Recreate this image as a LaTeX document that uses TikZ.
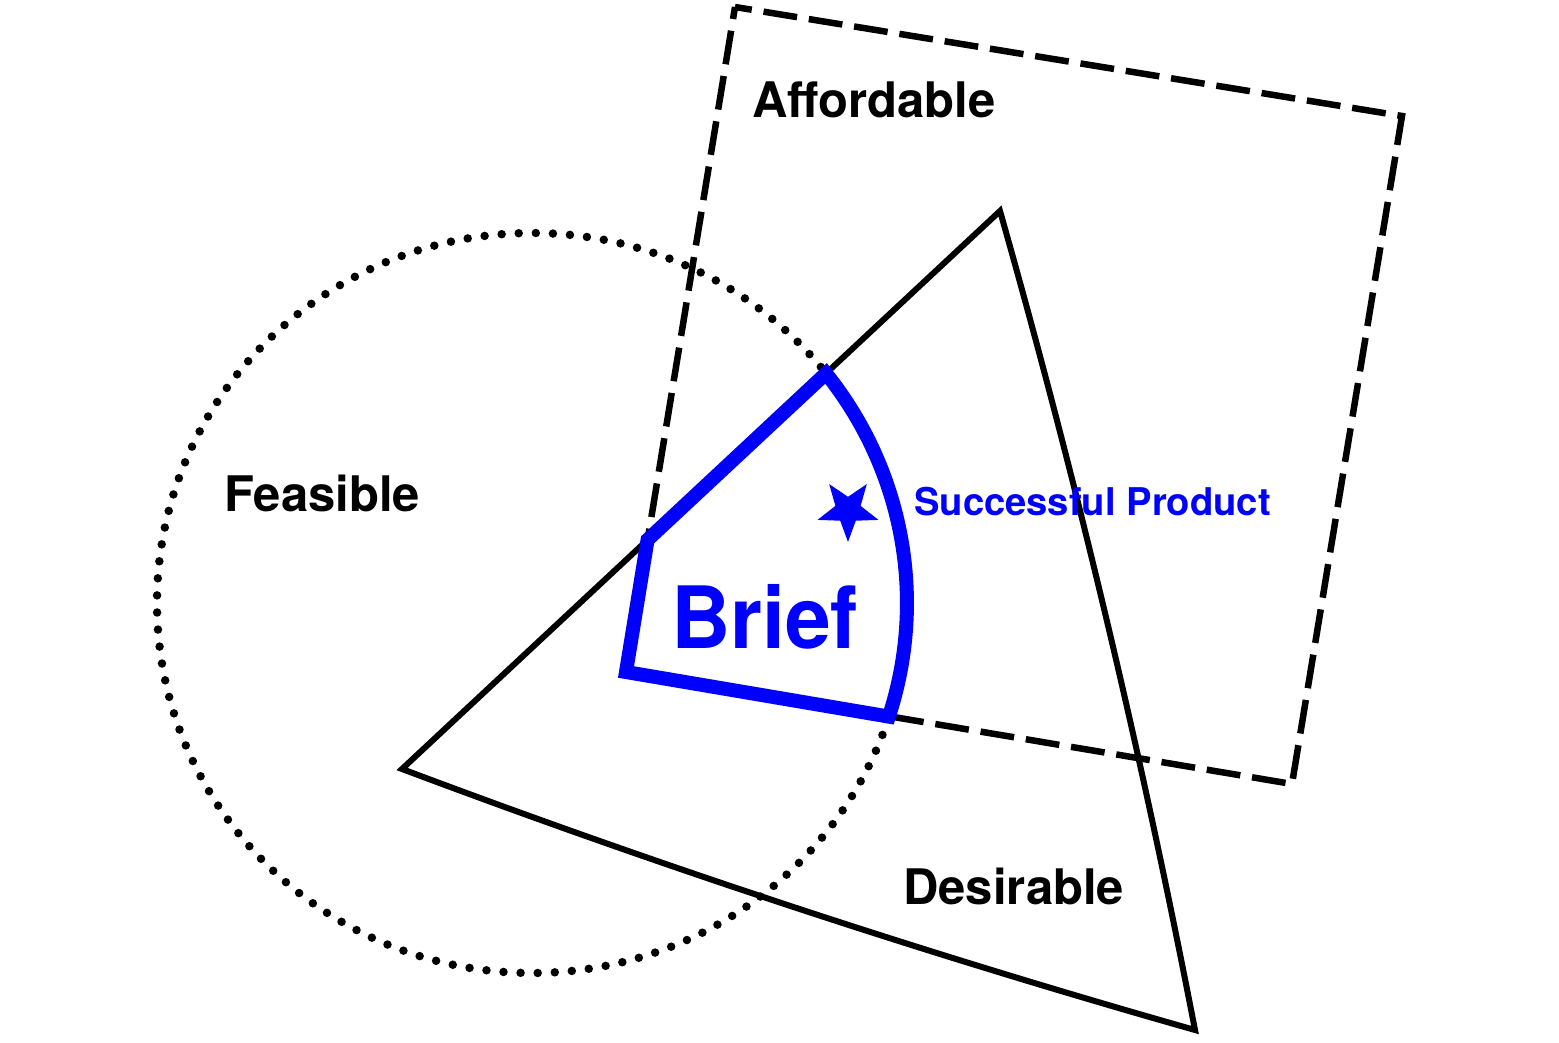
\documentclass[tikz,border=0pt]{standalone}
\usepackage{fontspec}
\usepackage{graphicx}
\setmainfont{TeX Gyre Heros}
\begin{document}
\begin{tikzpicture}[x=1pt,y=1pt,
  edge/.style={line width=6pt, line join=miter},
  dashbox/.style={line width=6.5pt, line join=miter, dash pattern=on 34pt off 11.88pt, dash phase=17pt},
  dotring/.style={line width=8.5pt, line cap=round, dash pattern=on 0pt off 17.1pt},
  brief/.style={draw=blue, line width=14pt, line join=miter},
  lbl/.style={font=\bfseries\fontsize{49}{55}\selectfont, inner sep=0pt, anchor=base west},
]
\useasboundingbox (0,0) rectangle (1559,-1043);
% square (Affordable)
\coordinate (sqTL) at (735,-7);
\coordinate (sqTR) at (1402,-116);
\coordinate (sqBR) at (1292,-784);
\coordinate (sqBL) at (626,-672);
% triangle (Desirable)
\coordinate (tA) at (1000,-211);
\coordinate (tB) at (1195,-1030);
\coordinate (tC) at (402,-769);
% ellipse centre (Feasible)
\coordinate (fc) at (532,-603);
% brief corners
\coordinate (b1) at (647.6,-539.8);
\coordinate (b2) at (826,-373.4);

\draw[dotring] (fc) ellipse [x radius=375, y radius=370];
\draw[dashbox] (sqTL) -- (sqTR) -- (sqBR) -- (sqBL) -- cycle;
\draw[edge] (tA) .. controls (1076.7,-481) and (1141.7,-754) .. (tB)
  .. controls (927,-954) and (662.7,-867) .. (tC) -- cycle;

\draw[brief] (sqBL) -- (b1) -- (b2)
  arc[start angle=38.36, end angle=-17.88, x radius=375, y radius=370] -- cycle;

\fill[blue] (848,-542) -- (855.8,-520.7) -- (878.5,-519.9) -- (860.6,-505.9)
  -- (866.8,-484.1) -- (848,-496.8) -- (829.2,-484.1) -- (835.4,-505.9)
  -- (817.5,-519.9) -- (840.2,-520.7) -- cycle;

\node[lbl] (aff) at (752,-118) {Affordable};
\node[lbl] (fea) at (224,-511) {Feasible};
\node[lbl] (des) at (903,-904) {Desirable};
\node[lbl, text=blue, font=\bfseries\fontsize{38.2}{43}\selectfont] (sp) at (914,-515) {Successful Product};
\node[lbl, text=blue, font=\bfseries\fontsize{86}{95}\selectfont] (br) at (671,-648) {\scalebox{0.955}[1]{Brief}};
\end{tikzpicture}
\end{document}
